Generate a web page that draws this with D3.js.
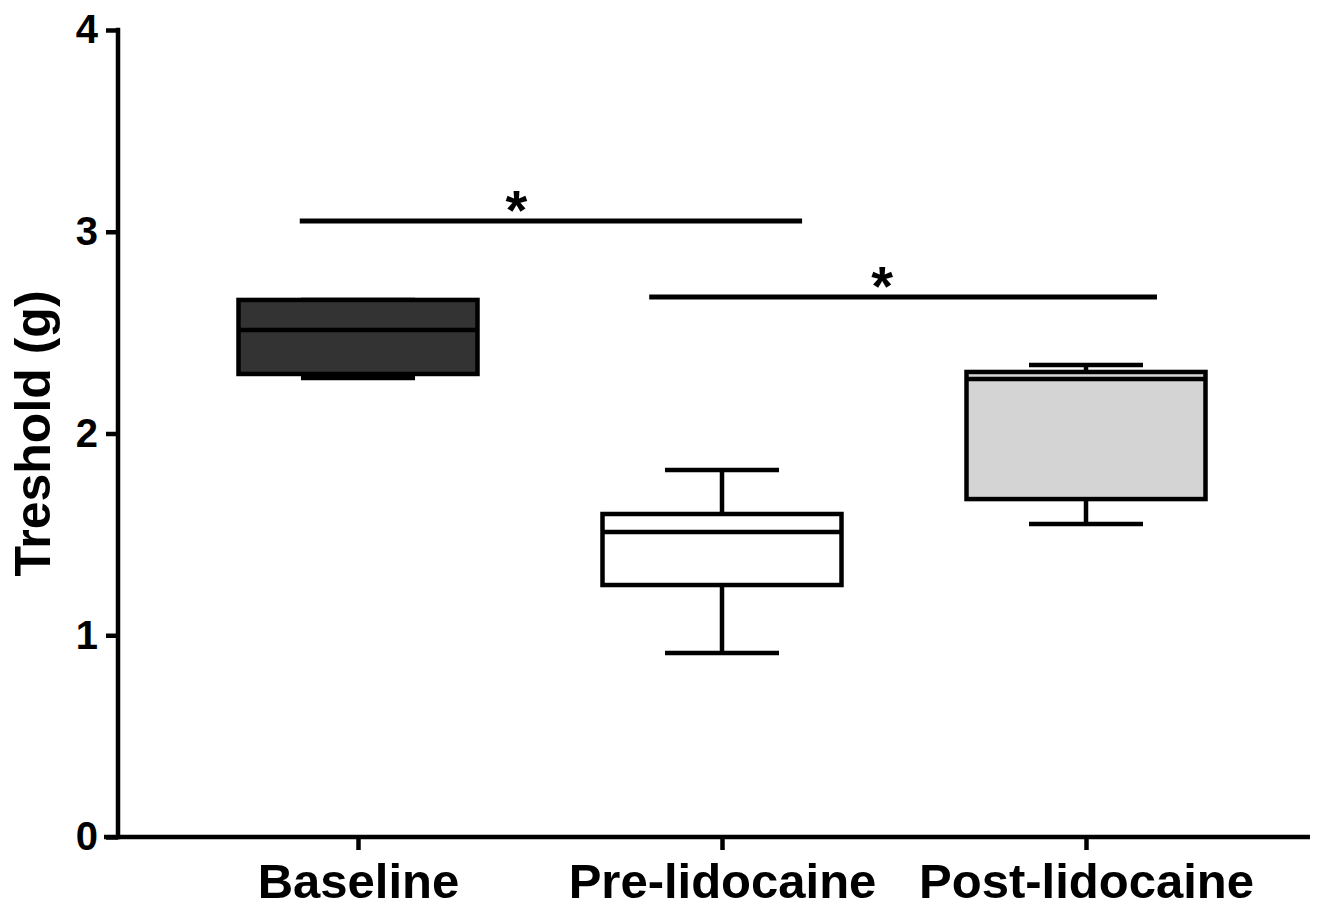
<!DOCTYPE html>
<html>
<head>
<meta charset="utf-8">
<script src="https://cdn.jsdelivr.net/npm/d3@7"></script>
<style>
    body { margin: 0; background: #ffffff; }
    svg text { font-family: "Liberation Sans", Arial, sans-serif; font-weight: bold; fill: #000; }
</style>
</head>
<body>
<div id="chart"></div>
<script>
///////////////////////////////////////////////////////////////////////////////////////////////////
// data (threshold in g)

var categories = ["Baseline", "Pre-lidocaine", "Post-lidocaine"];
var mins       = [2.275, 0.912, 1.551];
var q1s        = [2.295, 1.249, 1.675];
var medians    = [2.513, 1.512, 2.270];
var q3s        = [2.662, 1.601, 2.305];
var maxs       = [2.662, 1.819, 2.340];
var fills      = ["#333333", "#ffffff", "#d4d4d4"];

var y_ticks    = [0, 1, 2, 3, 4];

// significance bars: start / end / star position in category-index units, level in g
var sig_start  = [-0.16, 0.80];
var sig_end    = [1.22, 2.195];
var sig_star   = [0.435, 1.44];
var sig_level  = [3.053, 2.677];

///////////////////////////////////////////////////////////////////////////////////////////////////

function draw_box_chart(element_id) {

    var svg_width = 1324, svg_height = 906;
    var margin = { top: 30, right: 14, bottom: 69, left: 118 };
    var box_width = 239, cap_width = 114, sw = 4.5;

    var svg = d3.select('#' + element_id)
      .append("svg")
        .attr("width",  svg_width)
        .attr("height", svg_height);

    svg.append("rect")
        .attr("width", svg_width).attr("height", svg_height)
        .attr("fill", "#ffffff");

    var x = d3.scalePoint()
        .domain(categories)
        .range([358, 1086]);
    var xi = d3.scaleLinear()
        .domain([0, categories.length - 1])
        .range(x.range());
    var y = d3.scaleLinear()
        .domain([0, 4])
        .range([svg_height - margin.bottom, margin.top]);

    var boxes = categories.map(function(c, i) {
        return { cat: c, min: mins[i], q1: q1s[i], med: medians[i], q3: q3s[i], max: maxs[i], fill: fills[i] };
    });

    var g = svg.selectAll(".box")
        .data(boxes)
        .join("g")
          .attr("class", "box");

    // whiskers
    g.append("line")
        .attr("x1", function(d) { return x(d.cat); })
        .attr("x2", function(d) { return x(d.cat); })
        .attr("y1", function(d) { return y(d.q3); })
        .attr("y2", function(d) { return y(d.max); })
        .attr("stroke", "#000").attr("stroke-width", sw);
    g.append("line")
        .attr("x1", function(d) { return x(d.cat); })
        .attr("x2", function(d) { return x(d.cat); })
        .attr("y1", function(d) { return y(d.q1); })
        .attr("y2", function(d) { return y(d.min); })
        .attr("stroke", "#000").attr("stroke-width", sw);
    ["min", "max"].forEach(function(k) {
        g.append("line")
            .attr("x1", function(d) { return x(d.cat) - cap_width / 2; })
            .attr("x2", function(d) { return x(d.cat) + cap_width / 2; })
            .attr("y1", function(d) { return y(d[k]); })
            .attr("y2", function(d) { return y(d[k]); })
            .attr("stroke", "#000").attr("stroke-width", sw);
    });

    // box
    g.append("rect")
        .attr("x", function(d) { return x(d.cat) - box_width / 2; })
        .attr("width", box_width)
        .attr("y", function(d) { return y(d.q3); })
        .attr("height", function(d) { return y(d.q1) - y(d.q3); })
        .attr("fill", function(d) { return d.fill; })
        .attr("stroke", "#000").attr("stroke-width", sw);

    // median
    g.append("line")
        .attr("x1", function(d) { return x(d.cat) - box_width / 2; })
        .attr("x2", function(d) { return x(d.cat) + box_width / 2; })
        .attr("y1", function(d) { return y(d.med); })
        .attr("y2", function(d) { return y(d.med); })
        .attr("stroke", "#000").attr("stroke-width", sw);

    // y axis
    var y_axis = svg.append("g")
        .attr("transform", "translate(" + margin.left + ",0)")
        .call(d3.axisLeft(y).tickValues(y_ticks).tickFormat(d3.format("d"))
            .tickSize(12).tickPadding(8).tickSizeOuter(0));
    y_axis.select(".domain").remove();
    y_axis.selectAll(".tick line").attr("stroke", "#000").attr("stroke-width", sw);
    y_axis.selectAll("text").style("font-size", "40px").attr("fill", "#000");
    svg.append("line")
        .attr("x1", margin.left).attr("x2", margin.left)
        .attr("y1", y(4) - sw / 2).attr("y2", y(0) + sw / 2)
        .attr("stroke", "#000").attr("stroke-width", sw);

    // x axis
    var x_axis = svg.append("g")
        .attr("transform", "translate(0," + y(0) + ")")
        .call(d3.axisBottom(x).tickSize(13).tickPadding(13).tickSizeOuter(0));
    x_axis.select(".domain").remove();
    x_axis.selectAll(".tick line").attr("stroke", "#000").attr("stroke-width", sw);
    x_axis.selectAll("text").style("font-size", "49px").attr("fill", "#000");
    svg.append("line")
        .attr("x1", margin.left - 14).attr("x2", svg_width - margin.right)
        .attr("y1", y(0)).attr("y2", y(0))
        .attr("stroke", "#000").attr("stroke-width", sw);

    // y label
    svg.append("text")
        .attr("transform", "translate(50," + y(2) + ") rotate(-90)")
        .attr("text-anchor", "middle")
        .style("font-size", "50px")
        .text("Treshold (g)");

    // significance bars
    var sig = sig_level.map(function(v, i) {
        return { level: v, start: sig_start[i], end: sig_end[i], star: sig_star[i] };
    });
    svg.selectAll(".sig_line")
        .data(sig)
        .join("line")
          .attr("class", "sig_line")
          .attr("x1", function(d) { return xi(d.start); })
          .attr("x2", function(d) { return xi(d.end); })
          .attr("y1", function(d) { return y(d.level); })
          .attr("y2", function(d) { return y(d.level); })
          .attr("stroke", "#000").attr("stroke-width", 5);
    svg.selectAll(".sig_star")
        .data(sig)
        .join("text")
          .attr("class", "sig_star")
          .attr("x", function(d) { return xi(d.star); })
          .attr("y", function(d) { return y(d.level) + 8; })
          .attr("text-anchor", "middle")
          .style("font-size", "56px")
          .text("*");

} // end function

draw_box_chart("chart");
</script>
</body>
</html>
